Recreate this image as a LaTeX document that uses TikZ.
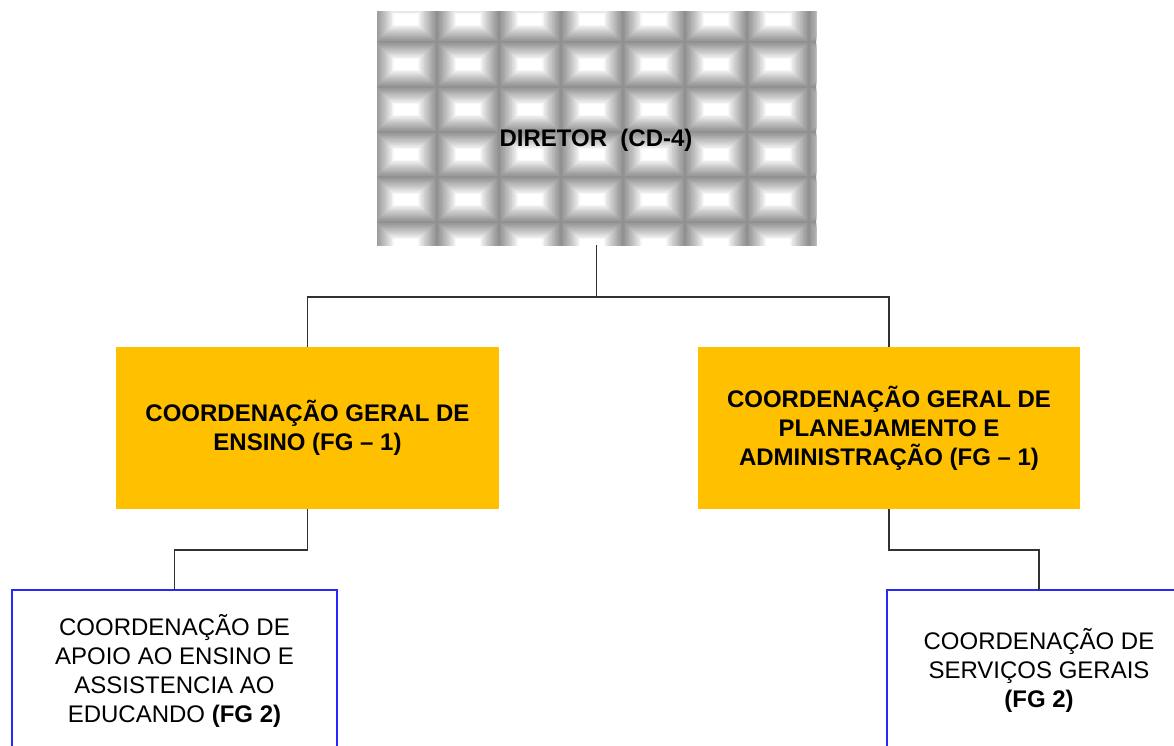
\documentclass[tikz,border=0pt]{standalone}
\usepackage{fontspec}
\setmainfont{Liberation Sans}
\definecolor{gold}{RGB}{255,192,0}
\definecolor{boxblue}{RGB}{40,40,250}
\definecolor{conn}{RGB}{50,50,50}
\begin{document}
\begin{tikzpicture}[x=1pt,y=-1pt,
  txt/.style={font=\fontsize{24}{29}\selectfont, align=center},
  goldbox/.style={txt, fill=gold, draw=none, inner sep=0pt, outer sep=0pt,
    minimum width=383pt, minimum height=162pt, font=\fontsize{24}{29}\selectfont\bfseries},
  bluebox/.style={txt, draw=boxblue, line width=1.3pt, fill=white, inner sep=0pt, outer sep=0pt,
    minimum height=161pt},
  link/.style={draw=conn, line width=1.2pt}]
\useasboundingbox (0,0) rectangle (1174,746);
\clip (0,0) rectangle (1174,746);
% director tiled background
\begin{scope}
  \clip (377,12) rectangle (816,245);
  \fill[black!43] (377,12) rectangle (816,245);
  \foreach \c in {0,...,7} {
    \foreach \r in {0,...,5} {
      \pgfmathsetmacro\cx{406+62*\c}
      \pgfmathsetmacro\cy{19.5+45*\r}
      \foreach \i in {0,...,24} {
        \pgfmathsetmacro\t{\i/24}
        \pgfmathsetmacro\hw{31-19*\t}
        \pgfmathsetmacro\hh{22.5-17*\t}
        \pgfmathsetmacro\pc{43*(1-\t)^0.85}
        \fill[black!\pc] (\cx-\hw,\cy-\hh) rectangle (\cx+\hw,\cy+\hh);
      }
    }
  }
\end{scope}
\node[draw=none, inner sep=0pt, outer sep=0pt, minimum width=439pt, minimum height=233pt] (dir) at (596.5,128.5) {};
\node[font=\fontsize{24}{29}\selectfont\bfseries, anchor=base, inner sep=0pt] (dirt) at (596,147) {DIRETOR\ \ (CD-4)};
% second level
\node[goldbox] (ens) at (307.5,428) {COORDENAÇÃO GERAL DE\\ENSINO (FG – 1)};
\node[goldbox, minimum width=382pt] (plan) at (889,428) {COORDENAÇÃO GERAL DE\\PLANEJAMENTO E\\ADMINISTRAÇÃO (FG – 1)};
% third level
\node[bluebox, minimum width=325pt] (apoio) at (174.5,670.5) {COORDENAÇÃO DE\\APOIO AO ENSINO E\\ASSISTENCIA AO\\EDUCANDO \textbf{(FG 2)}};
\node[bluebox, minimum width=304pt] (serv) at (1039,670.5) {COORDENAÇÃO DE\\SERVIÇOS GERAIS\\\textbf{(FG 2)}};
% connectors
\coordinate (j1) at (596.5,297);
\draw[link] (dir.south) -- (j1);
\draw[link] (ens.north) |- (j1) -| (plan.north);
\draw[link] (ens.south) -- ++(0,41) -| (apoio.north);
\draw[link] (plan.south) -- ++(0,41) -| (serv.north);
\end{tikzpicture}
\end{document}
